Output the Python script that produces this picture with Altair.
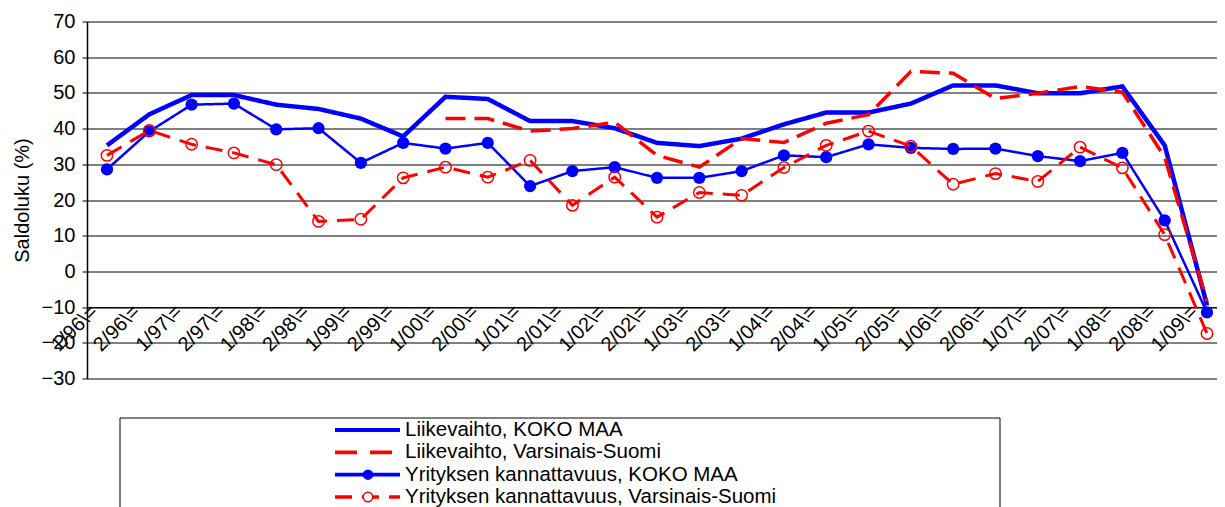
import altair as alt
import pandas as pd

# ---------------- data ----------------
categories = ["1/96", "2/96", "1/97", "2/97", "1/98", "2/98", "1/99", "2/99",
              "1/00", "2/00", "1/01", "2/01", "1/02", "2/02", "1/03", "2/03",
              "1/04", "2/04", "1/05", "2/05", "1/06", "2/06", "1/07", "2/07",
              "1/08", "2/08", "1/09"]
tick_labels = ["1/96\\=", "2/96\\=", "1/97\\=", "2/97\\=", "1/98\\=", "2/98\\=", "1/99\\=", "2/99\\=",
               "1/00\\=", "2/00\\=", "1/01\\=", "2/01\\=", "1/02\\=", "2/02\\=", "1/03\\=", "2/03\\=",
               "1/04\\=", "2/04\\=", "1/05\\=", "2/05\\=", "1/06\\=", "2/06\\=", "1/07\\=", "2/07\\=",
               "1/08\\=", "2/08\\=", "1/09\\="]

liikevaihto_koko = [35.3, 44.0, 49.4, 49.4, 46.7, 45.5, 42.8, 37.8, 48.9, 48.3, 42.1, 42.1, 40.1, 36.0,
                    35.1, 37.2, 41.2, 44.5, 44.5, 47.0, 52.1, 52.1, 49.9, 49.9, 51.8, 35.3, -9.5]
liikevaihto_vs = [None, None, None, None, None, None, None, None, 42.8, 42.8, 39.3, 40.0, 41.8, 32.5,
                  29.2, 37.2, 36.1, 41.5, 43.9, 56.0, 55.5, 48.4, 49.9, 51.8, 50.2, 32.0, -8.5]
kannattavuus_koko = [28.6, 39.2, 46.7, 47.0, 39.8, 40.1, 30.4, 36.0, 34.4, 36.0, 23.9, 28.1, 29.2, 26.2,
                     26.2, 28.1, 32.5, 32.0, 35.6, 34.6, 34.3, 34.4, 32.3, 30.9, 33.2, 14.3, -11.5]
kannattavuus_vs = [32.5, 39.5, 35.6, 33.2, 29.9, 14.0, 14.6, 26.2, 29.2, 26.4, 31.1, 18.5, 26.4, 15.2,
                   22.1, 21.3, 29.1, 35.3, 39.3, 35.1, 24.4, 27.4, 25.2, 34.8, 29.0, 10.3, -17.4]

series_names = ["Liikevaihto, KOKO MAA", "Liikevaihto, Varsinais-Suomi",
                "Yrityksen kannattavuus, KOKO MAA", "Yrityksen kannattavuus, Varsinais-Suomi"]
series_colors = ["#0000ff", "#ff0000", "#0000ff", "#ff0000"]
series_dashes = [[1, 0], [20, 9], [1, 0], [17, 10]]
series_widths = [4.5, 3.5, 2.5, 3]
y_ticks = [-30, -20, -10, 0, 10, 20, 30, 40, 50, 60, 70]

FONT = "Liberation Sans"
FS = 20
FS_LEG = 20.5

rows = []
for name, vals in zip(series_names, [liikevaihto_koko, liikevaihto_vs, kannattavuus_koko, kannattavuus_vs]):
    for idx, (lab, v) in enumerate(zip(tick_labels, vals)):
        if v is not None:
            rows.append({"period": lab, "idx": idx, "series": name, "value": v})
df = pd.DataFrame(rows)

x_enc = alt.X(
    "period:N", sort=tick_labels,
    scale=alt.Scale(type="point", padding=0.3546, align=0.667),
    axis=alt.Axis(title=None, orient="bottom", offset=-71.4, labelAngle=-45, labelAlign="right",
                  labelBaseline="middle", labelOffset=-13, labelPadding=1, ticks=False,
                  domain=True, domainColor="black", domainWidth=1, grid=False,
                  labelFontSize=FS, labelColor="black", labelFont=FONT),
)
y_enc = alt.Y(
    "value:Q",
    scale=alt.Scale(domain=[-30, 70], nice=False, zero=False),
    axis=alt.Axis(values=y_ticks, title="Saldoluku (%)", titleFontSize=FS, titleFontWeight="normal",
                  titleColor="black", titleFont=FONT, titlePadding=9,
                  labelFontSize=FS, labelColor="black", labelFont=FONT, labelPadding=7,
                  tickSize=5, tickColor="black", domainColor="black", domainWidth=1.5,
                  grid=True, gridColor="black", gridWidth=1, gridOpacity=1),
)


def line_layer(i):
    return alt.Chart(df).transform_filter(alt.datum.series == series_names[i]).mark_line(
        color=series_colors[i], strokeWidth=series_widths[i], strokeDash=series_dashes[i]
    ).encode(x=x_enc, y=y_enc, order=alt.Order("idx:Q"))


pts_koko = alt.Chart(df).transform_filter(alt.datum.series == series_names[2]).mark_point(
    shape="circle", filled=True, color="#0000ff", size=150, opacity=1
).encode(x=x_enc, y=y_enc)
pts_vs = alt.Chart(df).transform_filter(alt.datum.series == series_names[3]).mark_point(
    shape="circle", filled=False, color="#ff0000", size=130, strokeWidth=1.5, opacity=1
).encode(x=x_enc, y=y_enc)

main = alt.layer(
    line_layer(0), line_layer(1), line_layer(2), pts_koko, line_layer(3), pts_vs
).properties(width=1130, height=357)

# ---------------- legend panel ----------------
leg_df = pd.DataFrame({"series": series_names})
ly = alt.Y("series:N", sort=series_names, scale=alt.Scale(type="point", range=[12, 79], padding=0), axis=None)
leg_lines = alt.Chart(leg_df).mark_rule().encode(
    x=alt.value(248), x2=alt.value(313), y=ly,
    color=alt.Color("series:N", scale=alt.Scale(domain=series_names, range=series_colors), legend=None),
    strokeDash=alt.StrokeDash("series:N", scale=alt.Scale(domain=series_names,
                              range=[[1, 0], [22, 13], [1, 0], [17, 10]]), legend=None),
    strokeWidth=alt.StrokeWidth("series:N", scale=alt.Scale(domain=series_names, range=[4, 3.5, 2.5, 3]),
                                legend=None),
)
leg_pt3 = alt.Chart(leg_df).transform_filter(alt.datum.series == series_names[2]).mark_point(
    shape="circle", filled=True, color="#0000ff", size=110, opacity=1
).encode(x=alt.value(281), y=ly)
leg_pt4 = alt.Chart(leg_df).transform_filter(alt.datum.series == series_names[3]).mark_point(
    shape="circle", filled=True, fill="white", stroke="#ff0000", size=90, strokeWidth=1.5, opacity=1
).encode(x=alt.value(281), y=ly)
leg_text = alt.Chart(leg_df).mark_text(align="left", baseline="middle", fontSize=FS_LEG, font=FONT,
                                       color="black").encode(x=alt.value(318), y=ly, text="series:N")
box_df = pd.DataFrame({"k": [0]})
box_top = alt.Chart(box_df).mark_rule(color="black", strokeWidth=1).encode(
    x=alt.value(33), x2=alt.value(913), y=alt.value(0))
box_left = alt.Chart(box_df).mark_rule(color="black", strokeWidth=1).encode(
    x=alt.value(33), y=alt.value(0), y2=alt.value(95))
box_right = alt.Chart(box_df).mark_rule(color="black", strokeWidth=1).encode(
    x=alt.value(913), y=alt.value(0), y2=alt.value(95))

legend = alt.layer(box_top, box_left, box_right, leg_lines, leg_pt3, leg_pt4, leg_text).properties(
    width=1130, height=95)

chart = alt.vconcat(main, legend, spacing=28.5).properties(
    padding={"left": 4, "top": 3.5, "right": 0, "bottom": 0}
).configure(font=FONT).configure_view(stroke="transparent", strokeWidth=0)

chart.save("out.html", embed_options={"renderer": "svg", "actions": False})
